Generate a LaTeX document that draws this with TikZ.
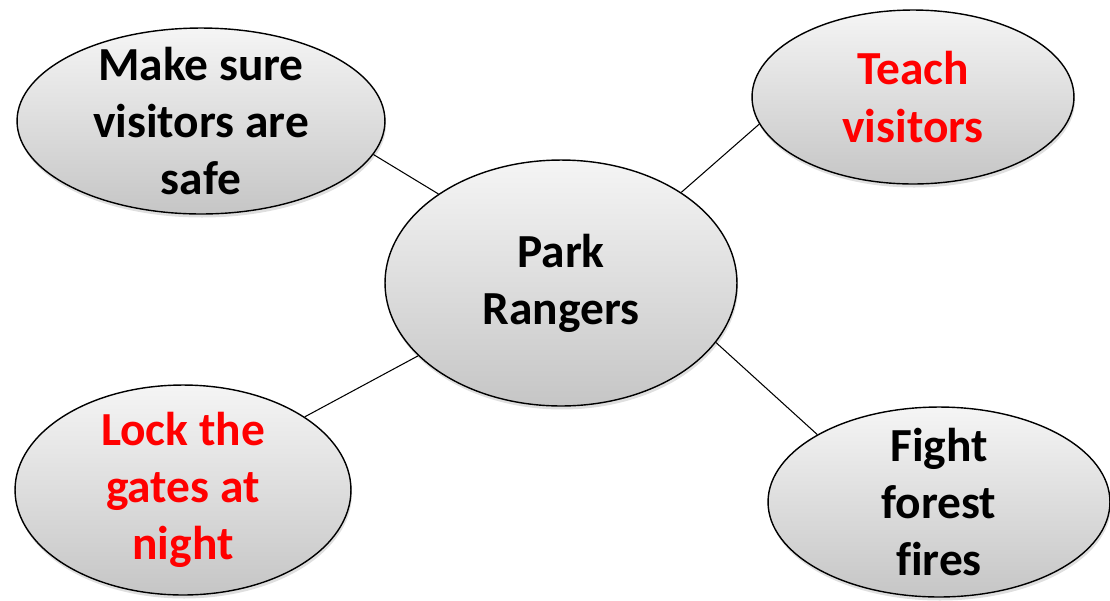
\documentclass[tikz,border=0pt]{standalone}
\usepackage{fontspec}
\setmainfont{Carlito}[Ligatures=CommonOff]
\usetikzlibrary{shapes.geometric,shadows}

\begin{document}
\begin{tikzpicture}[x=0.02cm,y=-0.02cm,
    bubble/.style={ellipse, draw, line width=0.8pt, inner sep=0pt,
        top color=gray!8, bottom color=gray!45,
        drop shadow={opacity=0.25, shadow xshift=0.6pt, shadow yshift=-2pt}},
    words/.style={align=center, font=\fontsize{27}{32.5}\selectfont\bfseries},
    link/.style={line width=0.6pt}]
    % Fix the size of the page
    \useasboundingbox (0,0) rectangle (1110,600);

    % Draw the bubbles
    \node[bubble, minimum width=7.04cm, minimum height=4.92cm] (rangers) at (561,283) {};
    \node[bubble, minimum width=7.36cm, minimum height=3.72cm] (safe) at (201,121) {};
    \node[bubble, minimum width=6.44cm, minimum height=3.48cm] (teach) at (913,97) {};
    \node[bubble, minimum width=6.72cm, minimum height=4.2cm] (gates) at (183,490) {};
    \node[bubble, minimum width=6.84cm, minimum height=3.8cm] (fires) at (939,502) {};

    % Words in the bubbles
    \node[words] (rangers-t) at (rangers) {Park\\Rangers};
    \node[words] (safe-t) at (safe) {Make sure\\visitors are\\safe};
    \node[words, text=red] (teach-t) at (teach) {Teach\\visitors};
    \node[words, text=red] (gates-t) at (gates) {Lock the\\gates at\\night};
    \node[words] (fires-t) at (fires) {Fight\\forest\\fires};

    % Connect them to the middle
    \draw[link] (safe.-11) -- (rangers.144);
    \draw[link] (teach.190) -- (rangers.37);
    \draw[link] (gates.31) -- (rangers.207);
    \draw[link] (fires.151) -- (rangers.-21);

\end{tikzpicture}
\end{document}
